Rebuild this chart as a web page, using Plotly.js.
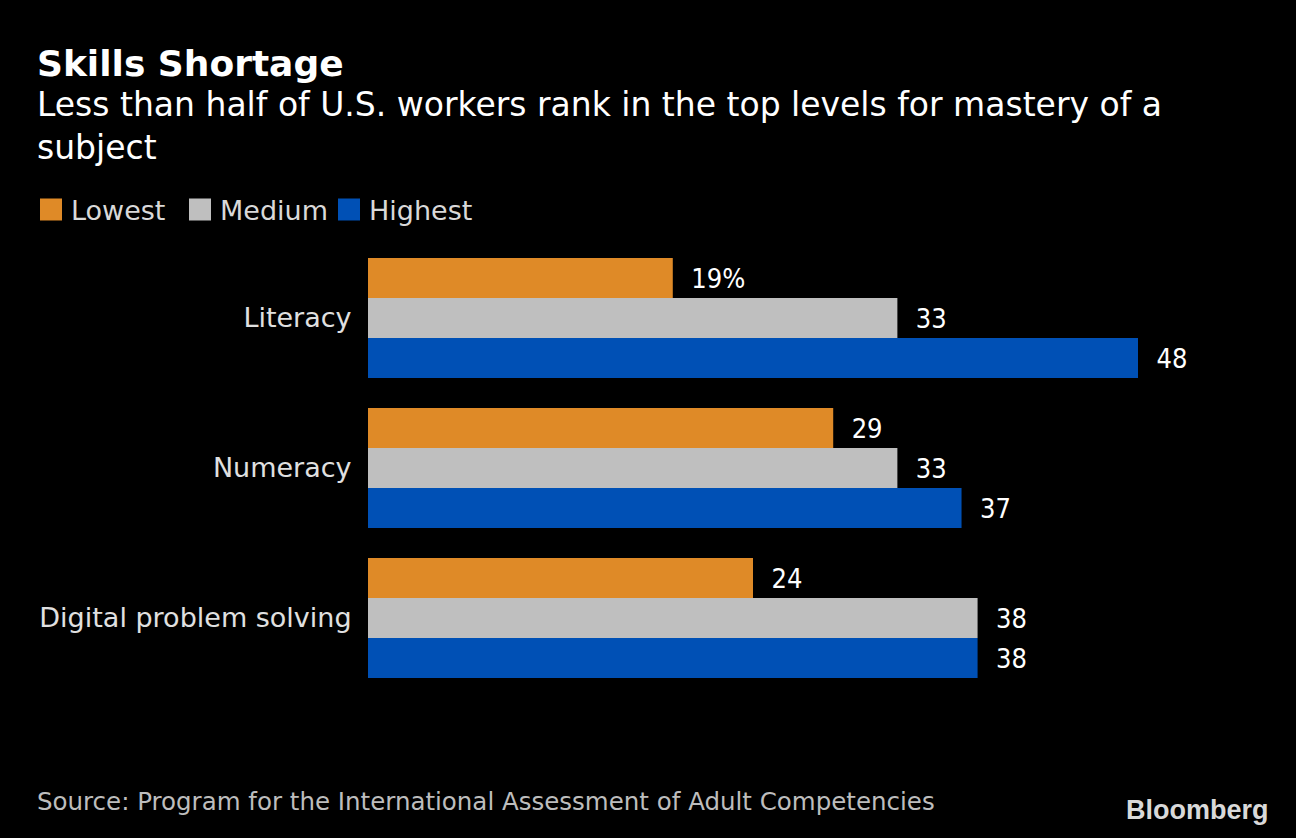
<!DOCTYPE html>
<html><head><meta charset="utf-8">
<script src="https://cdn.plot.ly/plotly-3.0.1.min.js"></script>
<style>html,body{margin:0;padding:0;background:#000;}#chart{width:1296px;height:838px;}</style>
</head><body><div id="chart"></div>
<script>
const categories = ["Literacy", "Numeracy", "Digital problem solving"];
const seriesNames = ["Lowest", "Medium", "Highest"];
const lowest = [19, 29, 24];
const medium = [33, 33, 38];
const highest = [48, 37, 38];
const colors = ["#df8a27", "#bfbfbf", "#0050b5"];
const FONT = "DejaVu Sans, sans-serif";
const FONTC = "DejaVu Sans Condensed, DejaVu Sans, sans-serif";

const W = 1296, H = 838, L = 368, R = 1138, T = 243, B = 693;
const px2paperX = p => (p - L) / (R - L);
const px2paperY = p => (B - p) / (B - T);

const NB = "\u00a0\u00a0";
function labels(vals, first) {
  return vals.map((v, i) => NB + v + (first && i === 0 ? "%" : ""));
}

const series = [lowest, medium, highest];
const traces = series.map((vals, k) => ({
  type: "bar", orientation: "h",
  name: seriesNames[k],
  y: categories, x: vals,
  marker: {color: colors[k], line: {width: 0}},
  text: labels(vals, k === 0),
  textposition: "outside",
  textfont: {family: FONTC, size: 27, color: "#ffffff"},
  cliponaxis: false,
  hoverinfo: "skip"
}));

const layout = {
  width: W, height: H,
  paper_bgcolor: "#000", plot_bgcolor: "#000",
  margin: {l: L, r: W - R, t: T, b: H - B, pad: 0},
  barmode: "group", bargap: 0.2, bargroupgap: 0,
  font: {family: FONT, color: "#e6e6e6"},
  xaxis: {range: [0, 48], visible: false, fixedrange: true},
  yaxis: {
    type: "category", range: [2.5, -0.5],
    showgrid: false, zeroline: false, showline: false,
    ticks: "outside", ticklen: 10, tickcolor: "rgba(0,0,0,0)",
    tickfont: {family: FONT, size: 27, color: "#e0e0e0"}
  },
  showlegend: true,
  legend: {
    orientation: "h", xref: "container", yref: "container",
    x: 31 / W, xanchor: "left", y: 1 - 210 / H, yanchor: "middle",
    font: {family: FONT, size: 27, color: "#d9d9d9"},
    itemwidth: 30, tracegroupgap: 0, traceorder: "normal",
    entrywidth: 104,
    bgcolor: "rgba(0,0,0,0)"
  },
  annotations: [
    {text: "<b>Skills Shortage</b>", xref: "paper", yref: "paper",
     x: px2paperX(35), y: px2paperY(63), xanchor: "left", yanchor: "middle",
     showarrow: false, font: {family: FONT, size: 36, color: "#ffffff"}},
    {text: "Less than half of U.S. workers rank in the top levels for mastery of a<br>subject",
     xref: "paper", yref: "paper", x: px2paperX(35), y: px2paperY(126),
     xanchor: "left", yanchor: "middle", align: "left",
     showarrow: false, font: {family: FONT, size: 33, color: "#ffffff"}},
    {text: "Source: Program for the International Assessment of Adult Competencies",
     xref: "paper", yref: "paper", x: px2paperX(35), y: px2paperY(801),
     xanchor: "left", yanchor: "middle", showarrow: false,
     font: {family: FONT, size: 24.5, color: "#bdbdbd"}},
    {text: "<b>Bloomberg</b>", xref: "paper", yref: "paper",
     x: px2paperX(1271), y: px2paperY(810), xanchor: "right", yanchor: "middle",
     showarrow: false, font: {family: "Liberation Sans, Arial, sans-serif", size: 27, color: "#d9d9d9"}}
  ]
};

Plotly.newPlot("chart", traces, layout, {displayModeBar: false, staticPlot: true}).then(gd => {
  gd.querySelectorAll(".legend .legendpoints path").forEach(p => {
    p.setAttribute("d", "M11,11H-11V-11H11Z");
  });
});
</script>
</body></html>
